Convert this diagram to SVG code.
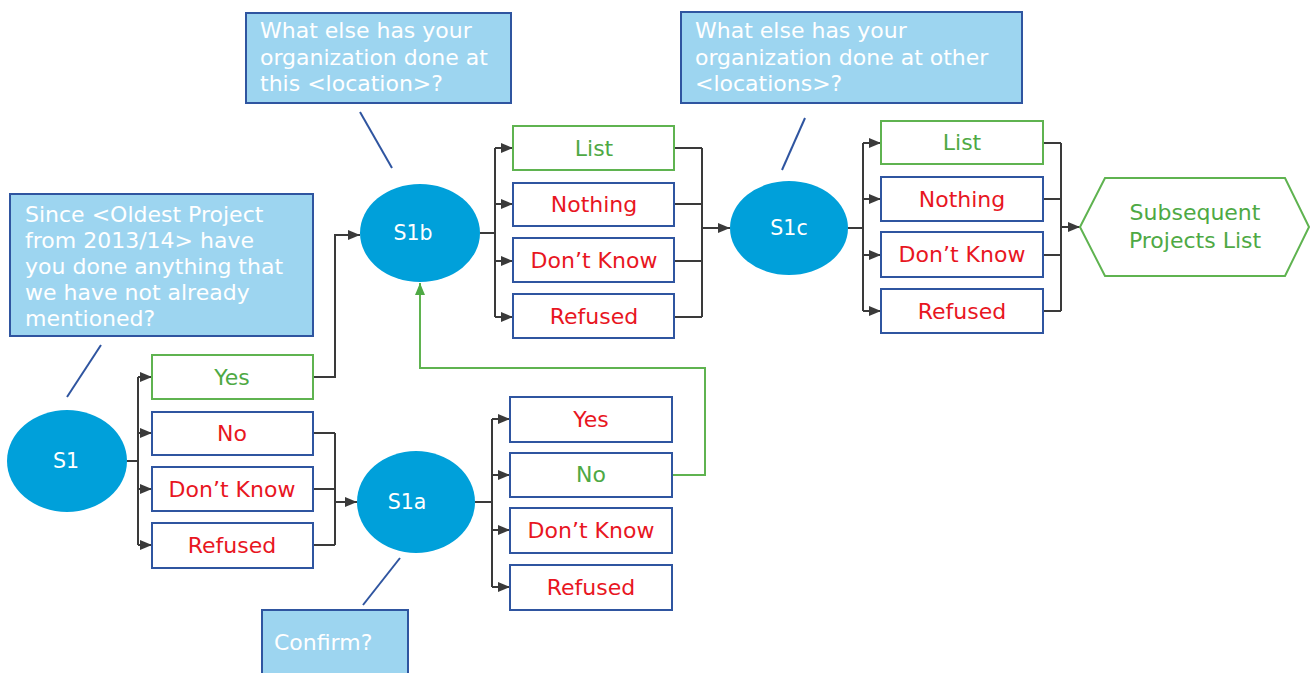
<svg xmlns="http://www.w3.org/2000/svg" width="1310" height="673" viewBox="0 0 1310 673">
<defs>
<marker id="ah" markerWidth="12" markerHeight="11" refX="12" refY="5.5" orient="auto" markerUnits="userSpaceOnUse"><path d="M0,0.5 L12,5.5 L0,10.5 z" fill="#3a3a3a"/></marker>
<marker id="ahg" markerWidth="12" markerHeight="11" refX="12" refY="5.5" orient="auto" markerUnits="userSpaceOnUse"><path d="M0,0.5 L12,5.5 L0,10.5 z" fill="#4ea944"/></marker>
<style>
.callout{fill:#9dd5f0;stroke:#2f55a0;stroke-width:2}
.ctext{fill:#ffffff;font-family:"DejaVu Sans",Verdana,sans-serif;font-size:22px}
.pointer{stroke:#2f55a0;stroke-width:2;fill:none}
.node{fill:#00a0da}
.ntext{fill:#ffffff;font-family:"DejaVu Sans",Verdana,sans-serif;font-size:20.5px;text-anchor:middle}
.boxb{fill:#ffffff;stroke:#2f55a0;stroke-width:2}
.boxg{fill:#ffffff;stroke:#5fb350;stroke-width:2}
.tr{fill:#e8161f;font-family:"DejaVu Sans",Verdana,sans-serif;font-size:22px;text-anchor:middle}
.tg{fill:#4ea944;font-family:"DejaVu Sans",Verdana,sans-serif;font-size:22px;text-anchor:middle}
.conn{stroke:#3a3a3a;stroke-width:2;fill:none}
.conng{stroke:#5fb350;stroke-width:2;fill:none}
</style>
</defs>
<rect width="1310" height="673" fill="#ffffff"/>

<!-- Callouts -->
<g id="callout-s1">
<rect class="callout" x="10" y="194" width="303" height="142"/>
<text class="ctext" x="25" y="222">Since &lt;Oldest Project</text>
<text class="ctext" x="25" y="248">from 2013/14&gt; have</text>
<text class="ctext" x="25" y="274">you done anything that</text>
<text class="ctext" x="25" y="300">we have not already</text>
<text class="ctext" x="25" y="326">mentioned?</text>
<line class="pointer" x1="101" y1="345" x2="67" y2="397"/>
</g>
<g id="callout-s1b">
<rect class="callout" x="246" y="13" width="265" height="90"/>
<text class="ctext" x="260" y="38">What else has your</text>
<text class="ctext" x="260" y="65">organization done at</text>
<text class="ctext" x="260" y="91">this &lt;location&gt;?</text>
<line class="pointer" x1="360" y1="112" x2="392" y2="168"/>
</g>
<g id="callout-s1c">
<rect class="callout" x="681" y="12" width="341" height="91"/>
<text class="ctext" x="695" y="38">What else has your</text>
<text class="ctext" x="695" y="65">organization done at other</text>
<text class="ctext" x="695" y="91">&lt;locations&gt;?</text>
<line class="pointer" x1="805" y1="118" x2="782" y2="170"/>
</g>
<g id="callout-s1a">
<rect class="callout" x="262" y="610" width="146" height="70"/>
<text class="ctext" x="274" y="650">Confirm?</text>
<line class="pointer" x1="363" y1="605" x2="400" y2="558"/>
</g>

<!-- Connectors -->
<g id="connectors">
<path class="conn" d="M127,461 H138 M138,377 V545"/>
<path class="conn" d="M138,377 H152" marker-end="url(#ah)"/>
<path class="conn" d="M138,433 H152" marker-end="url(#ah)"/>
<path class="conn" d="M138,489 H152" marker-end="url(#ah)"/>
<path class="conn" d="M138,545 H152" marker-end="url(#ah)"/>
<path class="conn" d="M313,377 H335 V235 H360" marker-end="url(#ah)"/>
<path class="conn" d="M313,433 H335 M313,489 H335 M313,545 H335 M335,433 V545"/>
<path class="conn" d="M335,502 H357" marker-end="url(#ah)"/>
<path class="conn" d="M475,502 H492 M492,419 V587"/>
<path class="conn" d="M492,419 H510" marker-end="url(#ah)"/>
<path class="conn" d="M492,475 H510" marker-end="url(#ah)"/>
<path class="conn" d="M492,530 H510" marker-end="url(#ah)"/>
<path class="conn" d="M492,587 H510" marker-end="url(#ah)"/>
<path class="conng" d="M672,475 H705 V368 H420 V283" marker-end="url(#ahg)"/>
<path class="conn" d="M480,233 H495 M495,148 V317"/>
<path class="conn" d="M495,148 H513" marker-end="url(#ah)"/>
<path class="conn" d="M495,204 H513" marker-end="url(#ah)"/>
<path class="conn" d="M495,261 H513" marker-end="url(#ah)"/>
<path class="conn" d="M495,317 H513" marker-end="url(#ah)"/>
<path class="conn" d="M674,148 H702 M674,204 H702 M674,261 H702 M674,317 H702 M702,148 V317"/>
<path class="conn" d="M702,228 H730" marker-end="url(#ah)"/>
<path class="conn" d="M848,228 H863 M863,143 V311"/>
<path class="conn" d="M863,143 H881" marker-end="url(#ah)"/>
<path class="conn" d="M863,199 H881" marker-end="url(#ah)"/>
<path class="conn" d="M863,255 H881" marker-end="url(#ah)"/>
<path class="conn" d="M863,311 H881" marker-end="url(#ah)"/>
<path class="conn" d="M1043,143 H1061 M1043,199 H1061 M1043,255 H1061 M1043,311 H1061 M1061,143 V311"/>
<path class="conn" d="M1061,227 H1080" marker-end="url(#ah)"/>
</g>

<!-- Nodes -->
<g id="node-s1"><ellipse class="node" cx="67" cy="461" rx="60" ry="51"/><text class="ntext" x="66" y="468">S1</text></g>
<g id="node-s1a"><ellipse class="node" cx="416" cy="502" rx="59" ry="51"/><text class="ntext" x="407" y="509">S1a</text></g>
<g id="node-s1b"><ellipse class="node" cx="420" cy="233" rx="60" ry="49"/><text class="ntext" x="413" y="240">S1b</text></g>
<g id="node-s1c"><ellipse class="node" cx="789" cy="228" rx="59" ry="47"/><text class="ntext" x="789" y="235">S1c</text></g>

<g id="s1-yes"><rect class="boxg" x="152" y="355" width="161" height="44"/><text class="tg" x="232" y="385">Yes</text></g>
<g id="s1-no"><rect class="boxb" x="152" y="412" width="161" height="43"/><text class="tr" x="232" y="441">No</text></g>
<g id="s1-dk"><rect class="boxb" x="152" y="467" width="161" height="44"/><text class="tr" x="232" y="497">Don’t Know</text></g>
<g id="s1-ref"><rect class="boxb" x="152" y="523" width="161" height="45"/><text class="tr" x="232" y="553">Refused</text></g>

<g id="s1a-yes"><rect class="boxb" x="510" y="397" width="162" height="45"/><text class="tr" x="591" y="427">Yes</text></g>
<g id="s1a-no"><rect class="boxb" x="510" y="453" width="162" height="44"/><text class="tg" x="591" y="482">No</text></g>
<g id="s1a-dk"><rect class="boxb" x="510" y="508" width="162" height="45"/><text class="tr" x="591" y="538">Don’t Know</text></g>
<g id="s1a-ref"><rect class="boxb" x="510" y="565" width="162" height="45"/><text class="tr" x="591" y="595">Refused</text></g>

<g id="s1b-list"><rect class="boxg" x="513" y="126" width="161" height="44"/><text class="tg" x="594" y="156">List</text></g>
<g id="s1b-nothing"><rect class="boxb" x="513" y="183" width="161" height="43"/><text class="tr" x="594" y="212">Nothing</text></g>
<g id="s1b-dk"><rect class="boxb" x="513" y="238" width="161" height="44"/><text class="tr" x="594" y="268">Don’t Know</text></g>
<g id="s1b-ref"><rect class="boxb" x="513" y="294" width="161" height="44"/><text class="tr" x="594" y="324">Refused</text></g>

<g id="s1c-list"><rect class="boxg" x="881" y="121" width="162" height="43"/><text class="tg" x="962" y="150">List</text></g>
<g id="s1c-nothing"><rect class="boxb" x="881" y="177" width="162" height="44"/><text class="tr" x="962" y="207">Nothing</text></g>
<g id="s1c-dk"><rect class="boxb" x="881" y="232" width="162" height="45"/><text class="tr" x="962" y="262">Don’t Know</text></g>
<g id="s1c-ref"><rect class="boxb" x="881" y="289" width="162" height="44"/><text class="tr" x="962" y="319">Refused</text></g>

<g id="subsequent-list">
<polygon points="1080,227 1105,178 1285,178 1309,227 1285,276 1105,276" fill="#ffffff" stroke="#5fb350" stroke-width="2"/>
<text class="tg" x="1195" y="220">Subsequent</text>
<text class="tg" x="1195" y="248">Projects List</text>
</g>
</svg>
